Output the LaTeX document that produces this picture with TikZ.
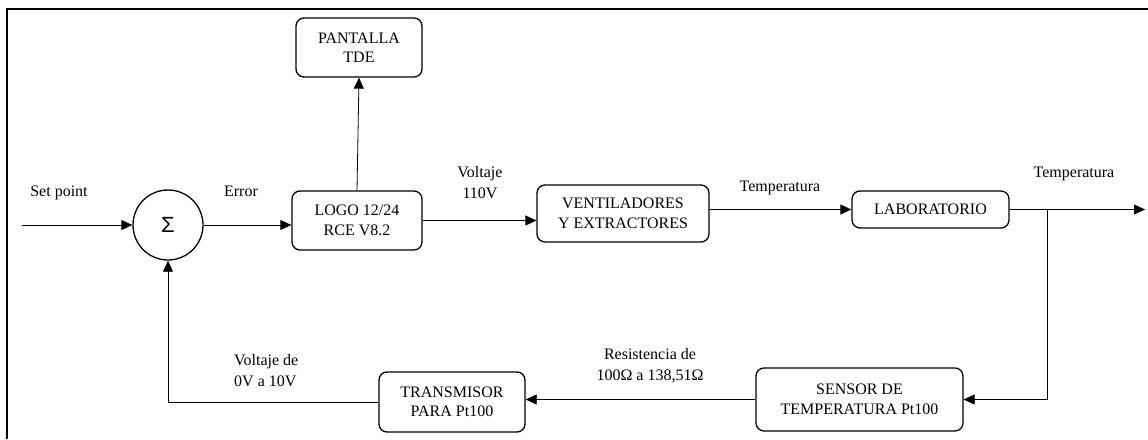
\documentclass[tikz,border=0pt]{standalone}
\usepackage{fontspec}
\setmainfont{Liberation Serif}
\newfontfamily\sigmafont{Liberation Sans}
\usetikzlibrary{arrows.meta}
\begin{document}
\begin{tikzpicture}[x=1pt,y=-1pt,
  blockbox/.style={draw, line width=1.3pt, rounded corners=8pt, align=center,
    inner sep=0pt, font=\fontsize{16}{19.5}\selectfont},
  lbl/.style={inner sep=0pt, align=center, font=\fontsize{16}{21}\selectfont},
  conn/.style={line width=0.8pt, -{Triangle[length=11pt,width=10pt]}},
  plain/.style={line width=0.8pt}]
\useasboundingbox (0,0) rectangle (1148,439);
\draw[line width=1.8pt] (7,439) -- (7,9) -- (1148,9);

\node[draw, circle, line width=1.3pt, minimum size=70pt, inner sep=0pt,
  font=\sigmafont\fontsize{22}{22}\selectfont] (sum) at (168,225) {Σ};
\node[blockbox, minimum width=126pt, minimum height=59pt] (pant) at (359,47.5) {PANTALLA\\TDE};
\node[blockbox, minimum width=130pt, minimum height=59pt] (logo) at (357,220.5) {LOGO 12/24\\RCE V8.2};
\node[blockbox, minimum width=172pt, minimum height=57pt] (vent) at (623,213.5) {VENTILADORES\\Y EXTRACTORES};
\node[blockbox, minimum width=157pt, minimum height=37pt] (lab) at (930.5,209.5) {LABORATORIO};
\node[blockbox, minimum width=207pt, minimum height=63pt] (sens) at (859.5,399.5) {SENSOR DE\\TEMPERATURA Pt100};
\node[blockbox, minimum width=146pt, minimum height=60pt] (trans) at (452,402) {TRANSMISOR\\PARA Pt100};

\coordinate (in) at (22,225);
\coordinate (out) at (1145,209.5);
\coordinate (br) at (1047,209.5);

\draw[conn] (in) -- (sum.west);
\draw[conn] (sum.east) -- (sum.east -| logo.west);
\draw[conn] (logo.north) -- (pant.south);
\draw[conn] (logo.east) -- (logo.east -| vent.west);
\draw[conn] (vent.east |- lab.west) -- (lab.west);
\draw[conn] (lab.east) -- (out);
\draw[conn] (br) |- (sens.east);
\draw[conn] (sens.west) -- (sens.west -| trans.east);
\draw[conn] (trans.west) -| (sum.south);

\node[lbl] (lsp) at (59,193) {Set point};
\node[lbl] (lerr) at (241,191) {Error};
\node[lbl] (lv110) at (480,183) {Voltaje\\110V};
\node[lbl] (lt1) at (780,188) {Temperatura};
\node[lbl] (lt2) at (1074,174) {Temperatura};
\node[lbl, align=left, anchor=west] (lv10) at (234,371) {Voltaje de\\0V a 10V};
\node[lbl] (lres) at (650,366) {Resistencia de\\100Ω a 138,51Ω};
\end{tikzpicture}
\end{document}
